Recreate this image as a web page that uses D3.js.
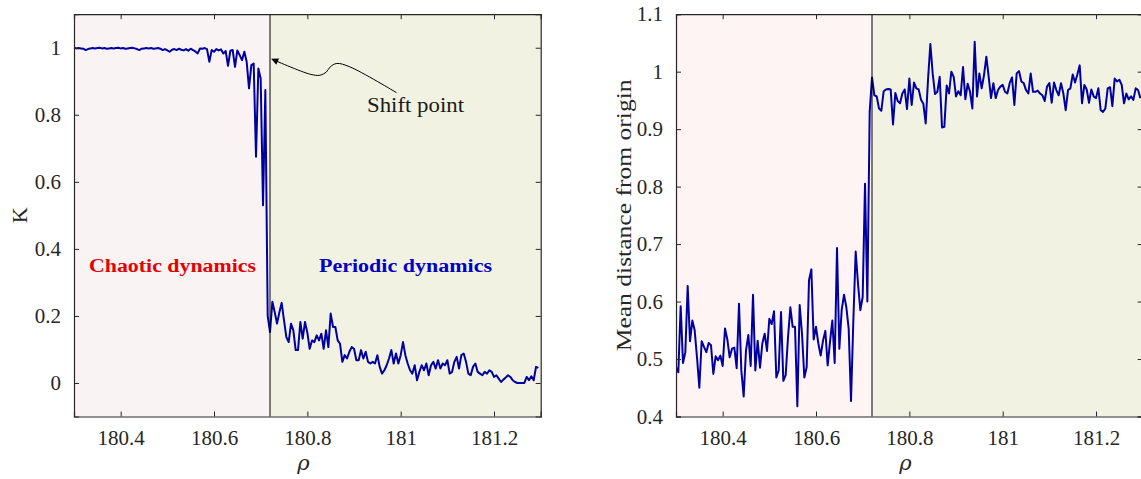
<!DOCTYPE html>
<html>
<head>
<meta charset="utf-8" />
<script src="https://cdn.jsdelivr.net/npm/d3@7"></script>
<style>
  body { margin: 0; background: #fff; }
</style>
</head>
<body>
<div id="chart"></div>
<script>
// rho grid: 180.3 + i * 0.005
const rhoStart = 180.3;
const rhoStep = 0.005;
const shiftRho = 180.72;

// order parameter K
const kValues = [
  1.0, 0.998, 0.999, 0.998, 0.997, 0.993, 0.996, 0.998, 0.999, 0.998,
  0.999, 1.0, 0.998, 0.999, 0.997, 0.998, 0.999, 0.998, 0.999, 1.0,
  0.998, 0.999, 0.997, 0.998, 0.999, 1.0, 0.998, 0.996, 0.993, 0.997,
  0.998, 0.999, 0.998, 0.999, 0.997, 0.998, 0.999, 0.997, 0.993, 0.996,
  0.992, 0.988, 0.994, 0.996, 0.993, 0.997, 0.994, 0.992, 0.996, 0.991,
  0.997, 0.993, 0.989, 0.983,
  0.998, 0.997, 0.999, 0.996, 0.958, 0.993, 0.988, 0.996, 0.992, 0.995,
  0.983, 0.99, 0.946, 0.991, 0.993, 0.943, 0.992, 0.978, 0.963, 0.988,
  0.958, 0.879, 0.948, 0.953, 0.675, 0.938, 0.908, 0.53, 0.874,
  0.2, 0.152, 0.242, 0.212, 0.177, 0.21, 0.239, 0.187, 0.137, 0.122,
  0.177, 0.157, 0.098, 0.098, 0.182, 0.132, 0.182, 0.15, 0.102, 0.127,
  0.122, 0.142, 0.127, 0.147, 0.102, 0.157, 0.107, 0.207, 0.167, 0.167,
  0.127, 0.117, 0.063, 0.083, 0.073, 0.093, 0.107, 0.102, 0.068, 0.068,
  0.098, 0.073, 0.093, 0.063, 0.058, 0.063, 0.058, 0.083, 0.048, 0.028,
  0.038, 0.053, 0.073, 0.098, 0.058, 0.088, 0.058, 0.083, 0.122, 0.083,
  0.058, 0.038, 0.028, 0.053, 0.008, 0.033, 0.053, 0.038, 0.058, 0.023,
  0.053, 0.063, 0.043, 0.068, 0.043, 0.058, 0.053, 0.068, 0.028, 0.033,
  0.063, 0.078, 0.043, 0.083, 0.088, 0.063, 0.028, 0.023, 0.048, 0.058,
  0.033, 0.028, 0.023, 0.033, 0.028, 0.038, 0.033, 0.018, 0.023, 0.013,
  0.003, 0.01, 0.016, 0.023, 0.018, 0.008, 0.003, 0.0, 0.0, 0.0,
  0.0, 0.018, 0.008, 0.02, 0.008, 0.048, 0.045
];

// mean distance from origin
const distValues = [
  0.486, 0.477, 0.592, 0.493, 0.512, 0.627, 0.531, 0.567, 0.55, 0.503,
  0.45, 0.531, 0.521, 0.512, 0.528, 0.524, 0.474, 0.505, 0.498, 0.506,
  0.488, 0.553, 0.534, 0.503, 0.518, 0.52, 0.484, 0.596, 0.48, 0.435,
  0.515, 0.542, 0.488, 0.612, 0.48, 0.532, 0.485, 0.527, 0.544, 0.514,
  0.57, 0.561, 0.583, 0.468, 0.48, 0.582, 0.462, 0.472, 0.538, 0.59,
  0.556, 0.556, 0.418, 0.594, 0.544, 0.468, 0.486, 0.637, 0.656, 0.534,
  0.556, 0.527, 0.506, 0.532, 0.549, 0.489, 0.53, 0.567, 0.493, 0.693,
  0.518, 0.585, 0.612, 0.59, 0.553, 0.427, 0.567, 0.687, 0.631, 0.585,
  0.608, 0.805, 0.6,
  0.93, 0.99,
  0.959, 0.957, 0.936, 0.932, 0.966, 0.969, 0.97, 0.969, 0.908, 0.963,
  0.949, 0.945, 0.962, 0.969, 0.935, 0.988, 0.942, 0.981, 0.971, 0.969,
  0.951, 0.944, 0.91, 0.986, 1.048, 0.997, 0.961, 0.965, 0.991, 0.903,
  0.904, 0.976, 0.962, 1.0, 0.991, 0.957, 0.966, 0.959, 1.008, 0.952,
  0.979, 0.965, 0.936, 1.052, 0.957, 0.997, 0.971, 0.994, 1.026, 0.991,
  0.954, 0.98, 0.954, 0.968, 0.974, 0.977, 0.965, 0.962, 0.98, 0.99,
  0.942, 0.997, 1.001, 0.983, 0.98, 0.968, 0.962, 0.997, 0.965, 0.965,
  0.967, 0.962, 0.959, 0.949, 0.974, 0.98, 0.946, 0.981, 0.968, 0.959,
  0.98, 0.962, 0.933, 0.968, 0.971, 0.995, 0.981, 0.995, 1.011, 0.945,
  0.977, 0.969, 0.946, 0.969, 0.957, 0.954, 0.971, 0.933, 0.93, 0.936,
  0.971, 0.973, 0.94, 0.988, 0.983, 0.986, 0.977, 0.945, 0.962, 0.952,
  0.957, 0.951, 0.971, 0.968, 0.954
];

const xTicks = [180.4, 180.6, 180.8, 181, 181.2];
const kTicks = [0, 0.2, 0.4, 0.6, 0.8, 1];
const distTicks = [0.4, 0.5, 0.6, 0.7, 0.8, 0.9, 1, 1.1];

// annotation arrow path, in data units of the left panel
const arrowPath = [
  [180.991, 0.866], [180.891, 0.943], [180.863, 0.953], [180.849, 0.943],
  [180.841, 0.928], [180.827, 0.918], [180.806, 0.921], [180.724, 0.966]
];

const width = 1141;
const height = 479;
const lineColor = "#0000a0";
const serif = '"Liberation Serif", "DejaVu Serif", serif';
const textColor = "#262626";

const svg = d3.select("#chart").append("svg")
    .attr("width", width)
    .attr("height", height)
    .attr("font-family", serif);

const defs = svg.append("defs");
defs.append("marker")
    .attr("id", "arrowhead")
    .attr("viewBox", "0 0 10 10")
    .attr("refX", 9).attr("refY", 5)
    .attr("markerWidth", 9).attr("markerHeight", 7)
    .attr("markerUnits", "userSpaceOnUse")
    .attr("orient", "auto")
    .append("path")
    .attr("d", "M0,0 L10,5 L0,10 z")
    .attr("fill", "#000");

const fmt = d => String(+d.toFixed(2));

function panel(opts) {
    const x = d3.scaleLinear().domain([180.3, 181.3]).range([opts.left, opts.left + 466.7]);
    const y = d3.scaleLinear().domain(opts.yDomain).range([416.5, 14.2]);
    const g = svg.append("g");
    const [x0, x1] = x.range();
    const [y0, y1] = y.range();

    g.append("rect")
        .attr("x", x0).attr("y", y1)
        .attr("width", x(shiftRho) - x0).attr("height", y0 - y1)
        .attr("fill", opts.pink);
    g.append("rect")
        .attr("x", x(shiftRho)).attr("y", y1)
        .attr("width", x1 - x(shiftRho)).attr("height", y0 - y1)
        .attr("fill", "#f2f2e2");

    const clipId = "clip" + opts.left;
    defs.append("clipPath").attr("id", clipId)
        .append("rect")
        .attr("x", x0).attr("y", y1)
        .attr("width", x1 - x0).attr("height", y0 - y1);

    const line = d3.line()
        .x((d, i) => x(rhoStart + i * rhoStep))
        .y(d => y(d));

    g.append("path")
        .datum(opts.values)
        .attr("clip-path", `url(#${clipId})`)
        .attr("d", line)
        .attr("fill", "none")
        .attr("stroke", lineColor)
        .attr("stroke-width", 2)
        .attr("stroke-linejoin", "round");

    g.append("line")
        .attr("x1", x(shiftRho)).attr("x2", x(shiftRho))
        .attr("y1", y0).attr("y2", y1)
        .attr("stroke", "#000").attr("stroke-width", 1);

    // axes with inward ticks on all four sides
    const bottom = g.append("g").attr("transform", `translate(0,${y0})`)
        .call(d3.axisBottom(x).tickValues(xTicks).tickSize(-5).tickPadding(14).tickFormat(fmt));
    const top = g.append("g").attr("transform", `translate(0,${y1})`)
        .call(d3.axisTop(x).tickValues(xTicks).tickSize(-5).tickFormat(""));
    const left = g.append("g").attr("transform", `translate(${x0},0)`)
        .call(d3.axisLeft(y).tickValues(opts.ticks).tickSize(-5).tickPadding(13).tickFormat(fmt));
    const right = g.append("g").attr("transform", `translate(${x1},0)`)
        .call(d3.axisRight(y).tickValues(opts.ticks).tickSize(-5).tickFormat(""));
    [bottom, top, left, right].forEach(a => {
        a.attr("font-family", serif).attr("font-size", 21);
        a.selectAll("path").attr("stroke", textColor).attr("stroke-width", 1.2);
        a.selectAll("line").attr("stroke", textColor);
        a.selectAll("text").attr("fill", textColor);
    });

    g.append("text")
        .attr("x", (x0 + x1) / 2 - 4).attr("y", 470)
        .attr("text-anchor", "middle")
        .attr("font-family", '"DejaVu Serif", serif')
        .attr("font-size", 21).attr("font-style", "italic")
        .attr("fill", textColor)
        .text("ρ");

    g.append("text")
        .attr("transform", `translate(${opts.labelX},${(y0 + y1) / 2}) rotate(-90)`)
        .attr("text-anchor", "middle")
        .attr("font-size", 22)
        .attr("fill", textColor)
        .attr("textLength", opts.labelLength)
        .attr("lengthAdjust", "spacingAndGlyphs")
        .text(opts.yLabel);

    return { x, y, g };
}

const p1 = panel({ left: 74, yDomain: [-0.1, 1.1], ticks: kTicks, values: kValues,
    pink: "#f9f3f4", yLabel: "K", labelX: 27, labelLength: 16 });
const p2 = panel({ left: 676, yDomain: [0.4, 1.1], ticks: distTicks, values: distValues,
    pink: "#fdf4f3", yLabel: "Mean distance from origin", labelX: 631, labelLength: 272 });

p1.g.append("text")
    .attr("x", 89).attr("y", 272)
    .attr("textLength", 167).attr("lengthAdjust", "spacingAndGlyphs")
    .attr("font-size", 18).attr("font-weight", "bold")
    .attr("fill", "#e60000")
    .text("Chaotic dynamics");

p1.g.append("text")
    .attr("x", 319).attr("y", 272)
    .attr("textLength", 173).attr("lengthAdjust", "spacingAndGlyphs")
    .attr("font-size", 18).attr("font-weight", "bold")
    .attr("fill", "#0000c8")
    .text("Periodic dynamics");

p1.g.append("text")
    .attr("x", 367).attr("y", 112)
    .attr("textLength", 97).attr("lengthAdjust", "spacingAndGlyphs")
    .attr("font-size", 20)
    .attr("fill", "#1a1a1a")
    .text("Shift point");

p1.g.append("path")
    .datum(arrowPath)
    .attr("d", d3.line().x(d => p1.x(d[0])).y(d => p1.y(d[1])).curve(d3.curveCatmullRom))
    .attr("fill", "none")
    .attr("stroke", "#000")
    .attr("stroke-width", 1)
    .attr("marker-end", "url(#arrowhead)");
</script>
</body>
</html>
